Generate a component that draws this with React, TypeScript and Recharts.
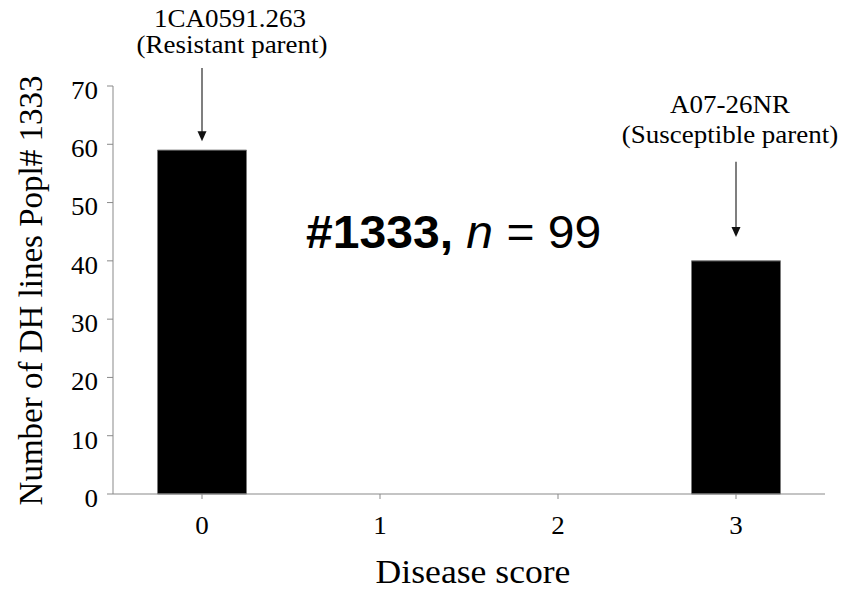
import React from "react";
import { BarChart, Bar, XAxis, YAxis, ReferenceLine } from "recharts";

// disease score classes and number of DH lines in each
const categories = ["0", "1", "2", "3"];
const lineCounts = [59, 0, 0, 40];
const yTicks = [0, 10, 20, 30, 40, 50, 60, 70];

// arrows pointing at the parents (y values, from -> to)
const resistantArrow = [73.1, 60.5];
const susceptibleArrow = [57, 44.1];

const data = categories.map((score, i) => ({ score, count: lineCounts[i] }));

const SERIF = '"Liberation Serif", "Times New Roman", serif';
const SANS = '"Liberation Sans", Arial, sans-serif';
const AXIS = "#898989";
const SX = 1.08;

function Stretch({ x, y, size, anchor = "middle", dy, family = SERIF, children }: any) {
    return (
        <text
            transform={`translate(${x},${y}) scale(${SX},1)`}
            textAnchor={anchor}
            fontFamily={family}
            fontSize={size}
            dy={dy}
            fill="#000"
        >
            {children}
        </text>
    );
}

const YTick = (props: any) => {
    const { x, y, payload } = props;
    return <Stretch x={x} y={y + 4} size={25} anchor="end" dy="0.355em">{payload.value}</Stretch>;
};

const XTick = (props: any) => {
    const { x, y, payload } = props;
    return <Stretch x={x} y={y} size={25} dy="0.71em">{payload.value}</Stretch>;
};

const Arrow = (props: any) => {
    const { x1, y1, x2, y2 } = props;
    return (
        <g>
            <line x1={x1} y1={y1} x2={x2} y2={y2 - 8} stroke="#555" strokeWidth={1.5} />
            <path d={`M${x2 - 4.5},${y2 - 10} L${x2 + 4.5},${y2 - 10} L${x2},${y2} Z`} fill="#111" />
        </g>
    );
};

export default function App() {
    return (
        <div style={{ position: "absolute", left: 0, top: 0, width: 859, height: 589, background: "#fff" }}>
            <BarChart
                width={859}
                height={589}
                data={data}
                margin={{ top: 86, right: 34, bottom: 0, left: 53 }}
                barCategoryGap="25%"
            >
                <XAxis
                    dataKey="score"
                    height={95}
                    stroke={AXIS}
                    tickSize={5}
                    tickMargin={17}
                    tick={<XTick />}
                    tickLine={{ stroke: AXIS }}
                />
                <YAxis
                    width={60}
                    domain={[0, 70]}
                    ticks={yTicks}
                    stroke={AXIS}
                    tickSize={6}
                    tickMargin={9}
                    tick={<YTick />}
                    tickLine={{ stroke: AXIS }}
                />
                <Bar dataKey="count" fill="#000" stroke="#7a7a7a" strokeWidth={1} isAnimationActive={false} />
                <ReferenceLine
                    segment={[{ x: "0", y: resistantArrow[0] }, { x: "0", y: resistantArrow[1] }]}
                    ifOverflow="visible"
                    shape={Arrow}
                />
                <ReferenceLine
                    segment={[{ x: "3", y: susceptibleArrow[0] }, { x: "3", y: susceptibleArrow[1] }]}
                    ifOverflow="visible"
                    shape={Arrow}
                />
            </BarChart>
            <svg width={859} height={589} style={{ position: "absolute", left: 0, top: 0, pointerEvents: "none" }}>
                <Stretch x={230} y={27} size={25}>1CA0591.263</Stretch>
                <Stretch x={232} y={53} size={25}>(Resistant parent)</Stretch>
                <Stretch x={730} y={113} size={25}>A07-26NR</Stretch>
                <Stretch x={730} y={143} size={25}>(Susceptible parent)</Stretch>
                <Stretch x={473} y={583} size={33}>Disease score</Stretch>
                <text
                    transform="translate(42,290.5) rotate(-90)"
                    textAnchor="middle"
                    fontFamily={SERIF}
                    fontSize={33}
                    fill="#000"
                >
                    Number of DH lines Popl# 1333
                </text>
                <text transform="translate(306,248) scale(1.045,1)" fontFamily={SANS} fontSize={46} fill="#000">
                    <tspan fontWeight="bold">#1333,</tspan>
                    <tspan fontStyle="italic"> n</tspan>
                    <tspan> = 99</tspan>
                </text>
            </svg>
        </div>
    );
}
